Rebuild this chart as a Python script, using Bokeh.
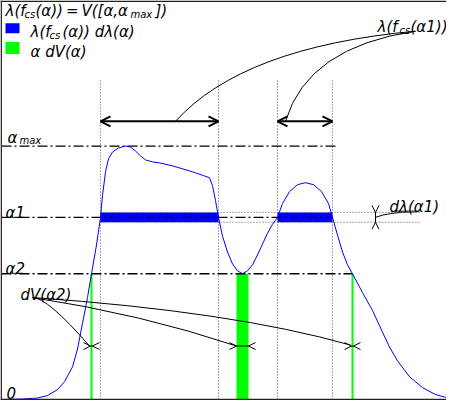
from bokeh.plotting import figure
from bokeh.models import Range1d, Arrow, OpenHead, Span, ColumnDataSource
from bokeh.core.properties import value
from bokeh.embed import file_html
from bokeh.resources import INLINE

# ---- data (diagram units: x right from the frame's left edge, y up from zero level) ----
curve_x = [0, 21, 36, 46, 56, 63, 71, 76, 81, 86, 90, 95, 99, 101, 104, 107, 111, 117, 124, 129,
           134, 139, 144, 151, 158, 171, 191, 208, 211, 214, 217, 221, 226, 231, 236, 241, 246, 251, 256, 261,
           266, 271, 276, 281, 288, 296, 304, 312, 320, 327, 331, 336, 341, 346, 351, 361, 371, 381, 388, 396,
           408, 421, 434, 443, 453]
curve_y = [0, 0.5, 1.5, 4, 10, 18, 33, 51, 77, 103, 127, 156, 184, 206, 230, 243, 250, 254, 256, 255,
           251, 246, 242, 240, 239, 236, 230, 224, 216, 201, 184, 165, 149, 137, 130, 127, 130, 136, 146, 157,
           168, 177, 184, 198, 210, 217, 219, 217, 210, 198, 184, 166, 149, 136, 127, 108, 90, 68, 53, 39,
           23, 12, 5, 2.5, 1.5]

level_names = ["alpha_max", "alpha1", "alpha2"]
level_values = [256, 184, 127]
level_ends = [334, 331, 351]

# intervals where lambda >= alpha1
interval_left = [99, 276]
interval_right = [217, 331]
band_half = 5          # half height of d lambda band
band_end = 419

# green bars at alpha2 crossings
green_left = [89, 235, 350]
green_right = [91, 247, 352]
marker_y = 54

guide_top = 324
arrow_y = 281

# ---- figure ----
p = figure(width=446, height=400, x_range=Range1d(-1, 445), y_range=Range1d(-1, 403),
           output_backend="svg", toolbar_location=None,
           x_axis_location=None, y_axis_location=None,
           min_border_left=0, min_border_right=0, min_border_top=0, min_border_bottom=0)
p.outline_line_color = None
p.xgrid.visible = False
p.ygrid.visible = False
p.background_fill_color = "white"

# frame lines (left, bottom, top)
p.add_layout(Span(location=-0.3, dimension="height", line_color="#222222", line_width=1.5))
p.add_layout(Span(location=-0.2, dimension="width", line_color="#222222", line_width=2))
p.add_layout(Span(location=402.3, dimension="width", line_color="#222222", line_width=1.5))

# vertical dotted guides
guide_xs = interval_left + interval_right
p.segment(x0=guide_xs, y0=[0] * 4, x1=guide_xs, y1=[guide_top] * 4,
          line_color="#555555", line_width=1, line_dash="1 2")

# blue band
a1 = level_values[1]
p.quad(left=interval_left, right=interval_right, bottom=[a1 - band_half] * 2, top=[a1 + band_half] * 2,
       fill_color="#0000ff", line_color=None)
p.segment(x0=[interval_left[0]] * 2, y0=[a1 - band_half, a1 + band_half],
          x1=[band_end] * 2, y1=[a1 - band_half, a1 + band_half],
          line_color="#555555", line_width=1, line_dash="1 2")

# green bars
a2 = level_values[2]
p.quad(left=green_left, right=green_right, bottom=[0] * 3, top=[a2] * 3,
       fill_color="#00ff00", line_color=None)

# dash-dot level lines
p.segment(x0=[0] * 3, y0=level_values, x1=level_ends, y1=level_values,
          line_color="black", line_width=1.3, line_dash="10 3 2 3")

# the curve
p.line(curve_x, curve_y, line_color="#0000ff", line_width=1)

# double arrows over intervals
for xl, xr in zip(interval_left, interval_right):
    p.add_layout(Arrow(x_start=xl, y_start=arrow_y, x_end=xr, y_end=arrow_y,
                       start=OpenHead(size=10, line_width=2, line_color="black"),
                       end=OpenHead(size=10, line_width=2, line_color="black"),
                       line_width=2, line_color="black"))

# leader curves from lambda(fcs(alpha1))
p.quadratic(x0=[174, 284], y0=[arrow_y, arrow_y], x1=[414, 414], y1=[372, 372],
            cx=[241, 306], cy=[356, 356], line_color="black", line_width=1)

# d lambda marker (vertical)
mx = 374
p.segment(x0=[mx], y0=[a1 - band_half], x1=[mx], y1=[a1 + band_half], line_color="black", line_width=1)
p.add_layout(Arrow(x_start=mx, y_start=a1 + band_half + 7, x_end=mx, y_end=a1 + band_half,
                   end=OpenHead(size=7, line_width=1, line_color="black"), line_alpha=0))
p.add_layout(Arrow(x_start=mx, y_start=a1 - band_half - 7, x_end=mx, y_end=a1 - band_half,
                   end=OpenHead(size=7, line_width=1, line_color="black"), line_alpha=0))
p.quadratic(x0=[mx], y0=[a1], x1=[416], y1=[190], cx=[386], cy=[189], line_color="black", line_width=1)
p.segment(x0=[396], y0=[190], x1=[416], y1=[190], line_color="#555555", line_width=2)

# dV markers (horizontal)
p.segment(x0=green_left, y0=[marker_y] * 3, x1=green_right, y1=[marker_y] * 3, line_color="black", line_width=1)
for gl, gr in zip(green_left, green_right):
    p.add_layout(Arrow(x_start=gl - 7, y_start=marker_y, x_end=gl, y_end=marker_y,
                       end=OpenHead(size=7, line_width=1, line_color="black"), line_alpha=0))
    p.add_layout(Arrow(x_start=gr + 7, y_start=marker_y, x_end=gr, y_end=marker_y,
                       end=OpenHead(size=7, line_width=1, line_color="black"), line_alpha=0))
p.quadratic(x0=[31, 31, 31], y0=[103, 103, 103], x1=[88, 235, 349], y1=[54, 54, 55],
            cx=[46, 141, 231], cy=[103, 86, 89], line_color="black", line_width=1)

# legend squares
p.quad(left=[4], right=[18], bottom=[370], top=[380], fill_color="#0000ff", line_color=None)
p.quad(left=[4], right=[18], bottom=[349], top=[361], fill_color="#00ff00", line_color=None)

# texts
font = value("DejaVu Sans")
main_src = ColumnDataSource(dict(
    x=[4, 34, 154, 29, 61, 29, 376, 409, 6, 4, 4, 5, 388, 19],
    y=[392, 392, 392, 371, 371, 351, 376, 376, 264, 188, 132, 7, 194, 106],
    t=["λ(f", "(α))\u2009=\u2009V([α,α", "])", "λ(f", "(α)) dλ(α)", "α dV(α)", "λ(f", "(α1))",
       "α", "α1", "α2", "0", "dλ(α1)", "dV(α2)"]))
sub_src = ColumnDataSource(dict(
    x=[23, 129, 48, 398, 18],
    y=[389, 389, 368, 373, 262],
    t=["cs", "max", "cs", "cs", "max"]))
p.text(x="x", y="y", text="t", source=main_src, text_font=font, text_font_style="italic",
       text_font_size="15px", text_baseline="alphabetic", text_align="left", text_color="black")
p.text(x="x", y="y", text="t", source=sub_src, text_font=font, text_font_style="italic",
       text_font_size="10px", text_baseline="alphabetic", text_align="left", text_color="black")

open("out.html", "w").write(file_html(p, INLINE))
